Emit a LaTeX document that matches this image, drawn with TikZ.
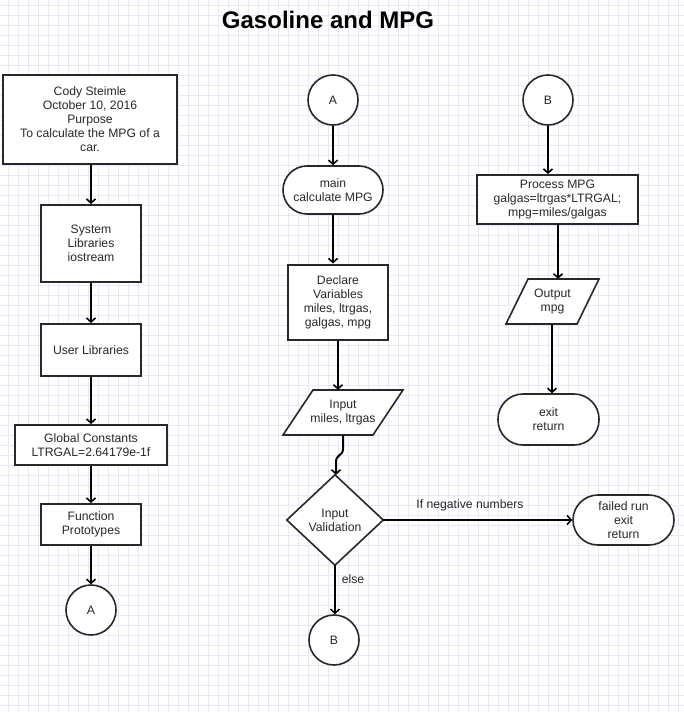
\documentclass[tikz,border=0pt]{standalone}
\usepackage{fontspec}
\setmainfont{Liberation Sans}
\usetikzlibrary{arrows.meta}
\definecolor{gridc}{RGB}{232,232,252}
\definecolor{edge}{RGB}{40,40,40}
\definecolor{txt}{RGB}{40,40,40}
\tikzset{
  base/.style={font=\fontsize{12.2}{14}\selectfont, text=txt, align=center, inner sep=0pt},
  boxn/.style={base, draw=edge, line width=2pt, fill=white},
  stad/.style={base, draw=edge, line width=1.6pt, fill=white, rounded corners=24pt},
  conn/.style={base, circle, draw=edge, line width=1.6pt, fill=white, minimum size=50pt},
  plain/.style={base},
  flow/.style={line width=2pt, black, -{Straight Barb[length=4pt,width=9pt,line width=1.6pt]}},
  shapeline/.style={draw=edge, line width=1.6pt, fill=white, line join=miter},
  lbl/.style={base}
}
\begin{document}
\begin{tikzpicture}[x=1pt,y=-1pt]
\useasboundingbox (0,0) rectangle (684,712);
\fill[white] (0,0) rectangle (684,712);
% grid
\foreach \gx in {8,18,...,684} \draw[gridc, line width=0.7pt] (\gx,0) -- (\gx,712);
\foreach \gy in {5,15,...,712} \draw[gridc, line width=0.7pt] (0,\gy) -- (684,\gy);

% title
\node[base, font=\fontsize{24}{27}\selectfont\bfseries, text=black] (title) at (328,20) {Gasoline and MPG};

% left column
\node[boxn, minimum width=174pt, minimum height=89pt] (info) at (90,119.5)
  {Cody Steimle\\October 10, 2016\\Purpose\\To calculate the MPG of a\\car.};
\node[boxn, minimum width=100pt, minimum height=77pt] (sys) at (91,243.5)
  {System\\Libraries\\iostream};
\node[boxn, minimum width=100pt, minimum height=52pt] (usr) at (91,350)
  {User Libraries};
\node[boxn, minimum width=152pt, minimum height=40pt] (glob) at (91,445)
  {Global Constants\\LTRGAL=2.64179e-1f};
\node[boxn, minimum width=100pt, minimum height=41pt] (func) at (91,524.5)
  {Function\\Prototypes};
\node[conn] (A1) at (91,610) {A};

\draw[flow] (info.south -| sys.north) -- (sys.north);
\draw[flow] (sys) -- (usr);
\draw[flow] (usr) -- (glob);
\draw[flow] (glob) -- (func);
\draw[flow] (func) -- (A1);

% middle column
\node[conn] (A2) at (333,100) {A};
\node[stad, minimum width=100pt, minimum height=48pt] (main) at (333,190)
  {main\\calculate MPG};
\node[boxn, minimum width=100pt, minimum height=75pt] (decl) at (338,302)
  {Declare\\Variables\\miles, ltrgas,\\galgas, mpg};
\node[plain, minimum width=120pt, minimum height=45pt] (inp) at (343,412.5) {};
\draw[shapeline] (313,390) -- (403,390) -- (373,435) -- (283,435) -- cycle;
\node[base] at (343,412.5) {Input\\miles, ltrgas};
\node[plain, minimum width=96pt, minimum height=90pt] (dia) at (335,520) {};
\draw[shapeline] (dia.north) -- (dia.east) -- (dia.south) -- (dia.west) -- cycle;
\node[base] at (335,520) {Input\\Validation};
\node[stad, minimum width=101pt, minimum height=50pt, rounded corners=25pt] (fail) at (623.5,520)
  {failed run\\exit\\return};
\node[conn] (B1) at (334,640) {B};

\draw[flow] (A2) -- (A2 |- main.north);
\draw[flow] (main.south) -- (main.south |- decl.north);
\draw[flow] (decl.south) -- (decl.south |- inp.north);
\coordinate (c1) at (343,449);
\coordinate (c2) at (336,462);
\draw[flow] (inp.south) -- (c1) .. controls (343,456) and (336,454) .. (c2) -- (c2 |- dia.north);
\draw[flow] (dia.east) -- (fail.west);
\node[lbl] (neg) at (470,505) {If negative numbers};
\draw[flow] (dia.south) -- (dia.south |- B1.north);
\node[lbl] (else) at (353,579) {else};

% right column
\node[conn] (B2) at (548,100) {B};
\node[boxn, minimum width=161pt, minimum height=49pt] (proc) at (557.5,199.5)
  {Process MPG\\galgas=ltrgas*LTRGAL;\\mpg=miles/galgas};
\node[plain, minimum width=93pt, minimum height=45pt] (outp) at (552.5,301.5) {};
\draw[shapeline] (528,279) -- (599,279) -- (577,324) -- (506,324) -- cycle;
\node[base] at (552.5,301.5) {Output\\mpg};
\node[stad, minimum width=101pt, minimum height=51pt, rounded corners=25pt] (exit) at (548.5,419.5)
  {exit\\return};

\draw[flow] (B2) -- (B2 |- proc.north);
\coordinate (p1) at (558,224);
\draw[flow] (p1) -- (p1 |- outp.north);
\coordinate (p2) at (552,324);
\draw[flow] (p2) -- (p2 |- exit.north);
\end{tikzpicture}
\end{document}
